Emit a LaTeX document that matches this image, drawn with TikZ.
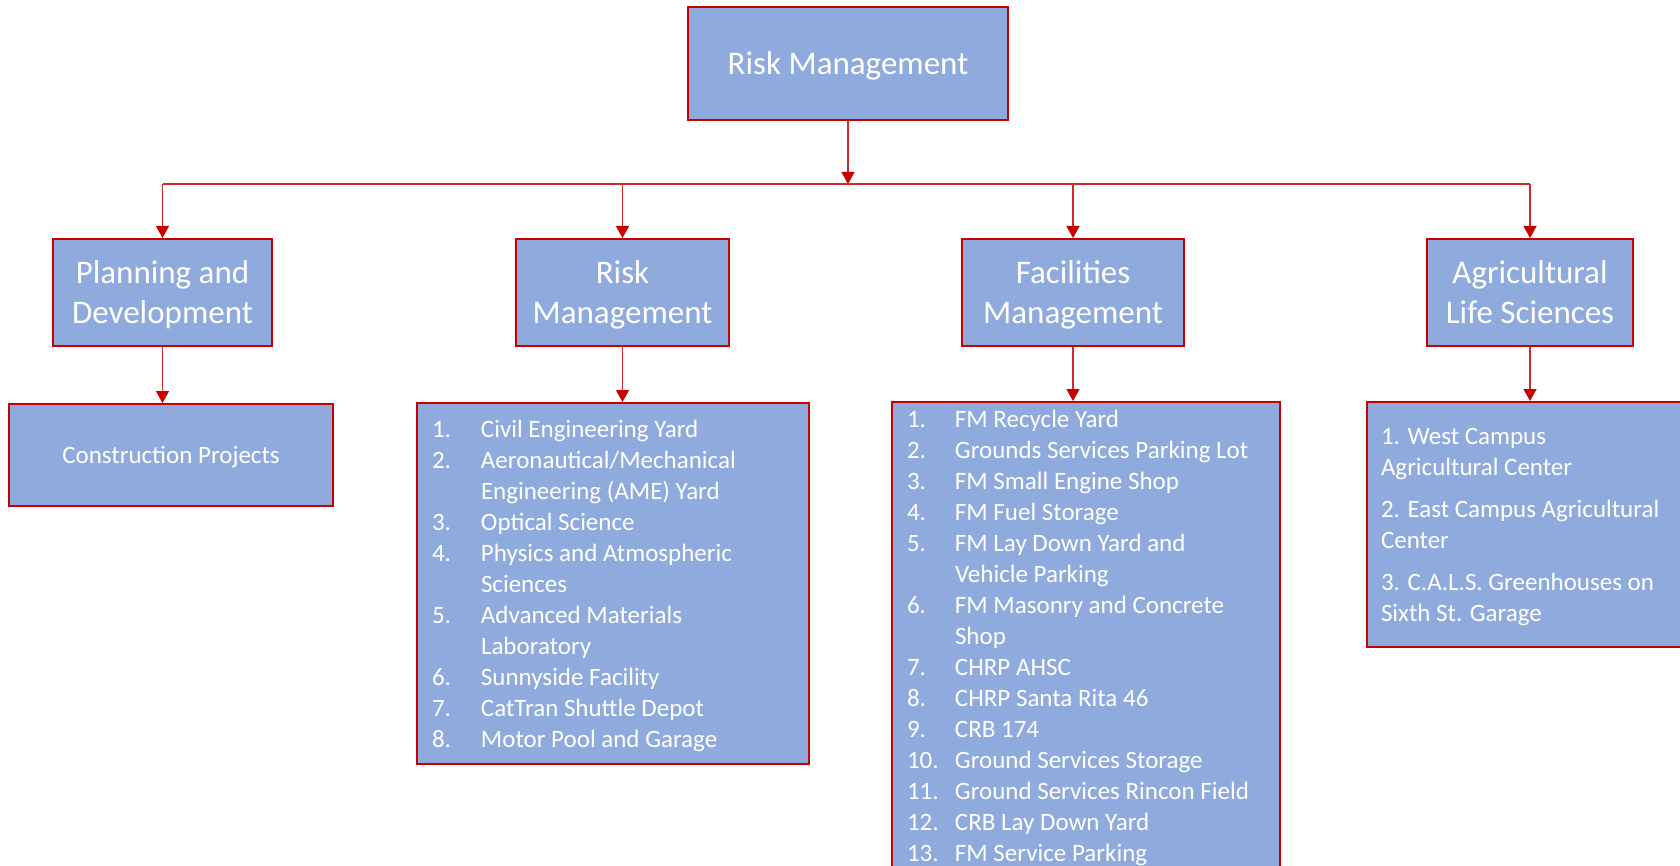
\documentclass[tikz,border=0pt]{standalone}
\usepackage{fontspec}
\setmainfont{Carlito}
\usetikzlibrary{arrows.meta}
\definecolor{boxfill}{HTML}{8FAADC}
\definecolor{boxred}{HTML}{C80000}
\definecolor{linkred}{HTML}{D42A2A}

\begin{document}
\begin{tikzpicture}[x=1pt, y=-1pt]
% -------------------------------------------------
\tikzset{
  base/.style={draw=boxred, line width=2pt, fill=boxfill, text=white, inner sep=0pt},
  head/.style={base, align=center, text depth=0pt, font=\fontsize{33}{40}\selectfont},
  sub/.style={base, align=center, text depth=0pt, font=\fontsize{25}{31}\selectfont},
  listbox/.style={base, anchor=north west, font=\fontsize{25}{31}\selectfont},
  line/.style={draw=linkred, line width=1.3pt, -{Triangle[width=13pt,length=12pt,color=boxred]}},
  wire/.style={draw=linkred, line width=1.5pt}
}
% -------------------------------------------------
\useasboundingbox (0,0) rectangle (1680,866);

% Placing the nodes
\node[head, minimum width=320pt, minimum height=113pt] (top) at (848,63.5) {Risk Management};

\node[head, minimum width=219pt, minimum height=107pt] (pd) at (162.5,292.5) {Planning and\\Development};
\node[head, minimum width=213pt, minimum height=107pt] (rm) at (622.5,292.5) {Risk\\Management};
\node[head, minimum width=222pt, minimum height=107pt] (fm) at (1073,292.5) {Facilities\\Management};
\node[head, minimum width=206pt, minimum height=107pt] (als) at (1530,292.5) {Agricultural\\Life Sciences};

\node[sub, minimum width=324pt, minimum height=102pt] (cp) at (171,455) {Construction Projects};

\node[listbox] (rml) at (416,402) {\parbox[c][361pt][t]{392pt}{%
  \vspace*{13pt}\hspace*{15pt}\begin{tabular}[t]{@{}p{49pt}@{}l@{}}
  1. & Civil Engineering Yard\\
  2. & Aeronautical/Mechanical\\
     & Engineering (AME) Yard\\
  3. & Optical Science\\
  4. & Physics and Atmospheric\\
     & Sciences\\
  5. & Advanced Materials\\
     & Laboratory\\
  6. & Sunnyside Facility\\
  7. & CatTran Shuttle Depot\\
  8. & Motor Pool and Garage
  \end{tabular}}};

\node[listbox] (fml) at (891,401) {\parbox[c][500pt][t]{388pt}{%
  \vspace*{3.5pt}\hspace*{15pt}\begin{tabular}[t]{@{}p{48pt}@{}l@{}}
  1.  & FM Recycle Yard\\
  2.  & Grounds Services Parking Lot\\
  3.  & FM Small Engine Shop\\
  4.  & FM Fuel Storage\\
  5.  & FM Lay Down Yard and\\
      & Vehicle Parking\\
  6.  & FM Masonry and Concrete\\
      & Shop\\
  7.  & CHRP AHSC\\
  8.  & CHRP Santa Rita 46\\
  9.  & CRB 174\\
  10. & Ground Services Storage\\
  11. & Ground Services Rincon Field\\
  12. & CRB Lay Down Yard\\
  13. & FM Service Parking
  \end{tabular}}};

\node[listbox] (alsl) at (1366,401) {\parbox[c][245pt][t]{324pt}{%
  \vspace*{21pt}\hspace*{14pt}\begin{tabular}[t]{@{}l@{}}
  1. West Campus\\
  Agricultural Center\\[11pt]
  2. East Campus Agricultural\\
  Center\\[11pt]
  3. C.A.L.S. Greenhouses on\\
  Sixth St. Garage
  \end{tabular}}};

% Connectors
\coordinate (bus) at (848,184);
\path [line] (top.south) -- (bus);
\path [wire] (pd.north |- bus) -- (als.north |- bus);
\foreach \n in {pd, rm, fm, als}
  \path [line] (\n.north |- bus) -- (\n.north);

\path [line] (pd.south) -- (pd.south |- cp.north);
\path [line] (rm.south) -- (rm.south |- rml.north);
\path [line] (fm.south) -- (fm.south |- fml.north);
\path [line] (als.south) -- (als.south |- alsl.north);

\end{tikzpicture}
\end{document}
